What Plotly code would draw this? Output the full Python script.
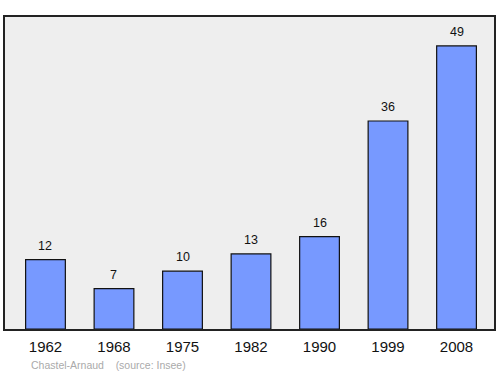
import plotly.graph_objects as go

years = ["1962", "1968", "1975", "1982", "1990", "1999", "2008"]
population = [12, 7, 10, 13, 16, 36, 49]
source_text = "Chastel-Arnaud    (source: Insee)"

xs = list(range(len(years)))

fig = go.Figure()
fig.add_trace(go.Bar(
    x=xs, y=population, width=0.58,
    marker=dict(color="#7799ff", line=dict(color="#111111", width=1.2)),
    hoverinfo="skip",
))

for x, v in zip(xs, population):
    fig.add_annotation(x=x, y=v, text=str(v), showarrow=False,
                       yanchor="bottom", yshift=5,
                       font=dict(family="Liberation Sans, Arial, sans-serif", size=12.5, color="#111111"))

fig.add_annotation(xref="paper", yref="paper", x=0.049, y=-0.115,
                   xanchor="left", yanchor="middle", showarrow=False,
                   text=source_text.replace("    ", "&nbsp;&nbsp;&nbsp;&nbsp;"),
                   font=dict(family="Liberation Sans, Arial, sans-serif", size=10.5, color="#aaaaaa"))

fig.update_layout(
    width=500, height=374,
    margin=dict(l=5, r=6, t=17, b=45),
    paper_bgcolor="white", plot_bgcolor="#eeeeee",
    showlegend=False,
    bargap=0.4,
)
fig.update_xaxes(range=[-0.591, 6.547], tickvals=xs, ticktext=years,
                 showgrid=False, zeroline=False, ticks="",
                 ticklabelstandoff=3,
                 showline=True, mirror=True, linecolor="#222222", linewidth=1.5,
                 tickfont=dict(family="Liberation Sans, Arial, sans-serif", size=15, color="#111111"))
fig.update_yaxes(range=[0, 54], showgrid=False, zeroline=False, showticklabels=False,
                 ticks="", showline=True, mirror=True, linecolor="#222222", linewidth=1.5)

fig.write_html("out.html")
